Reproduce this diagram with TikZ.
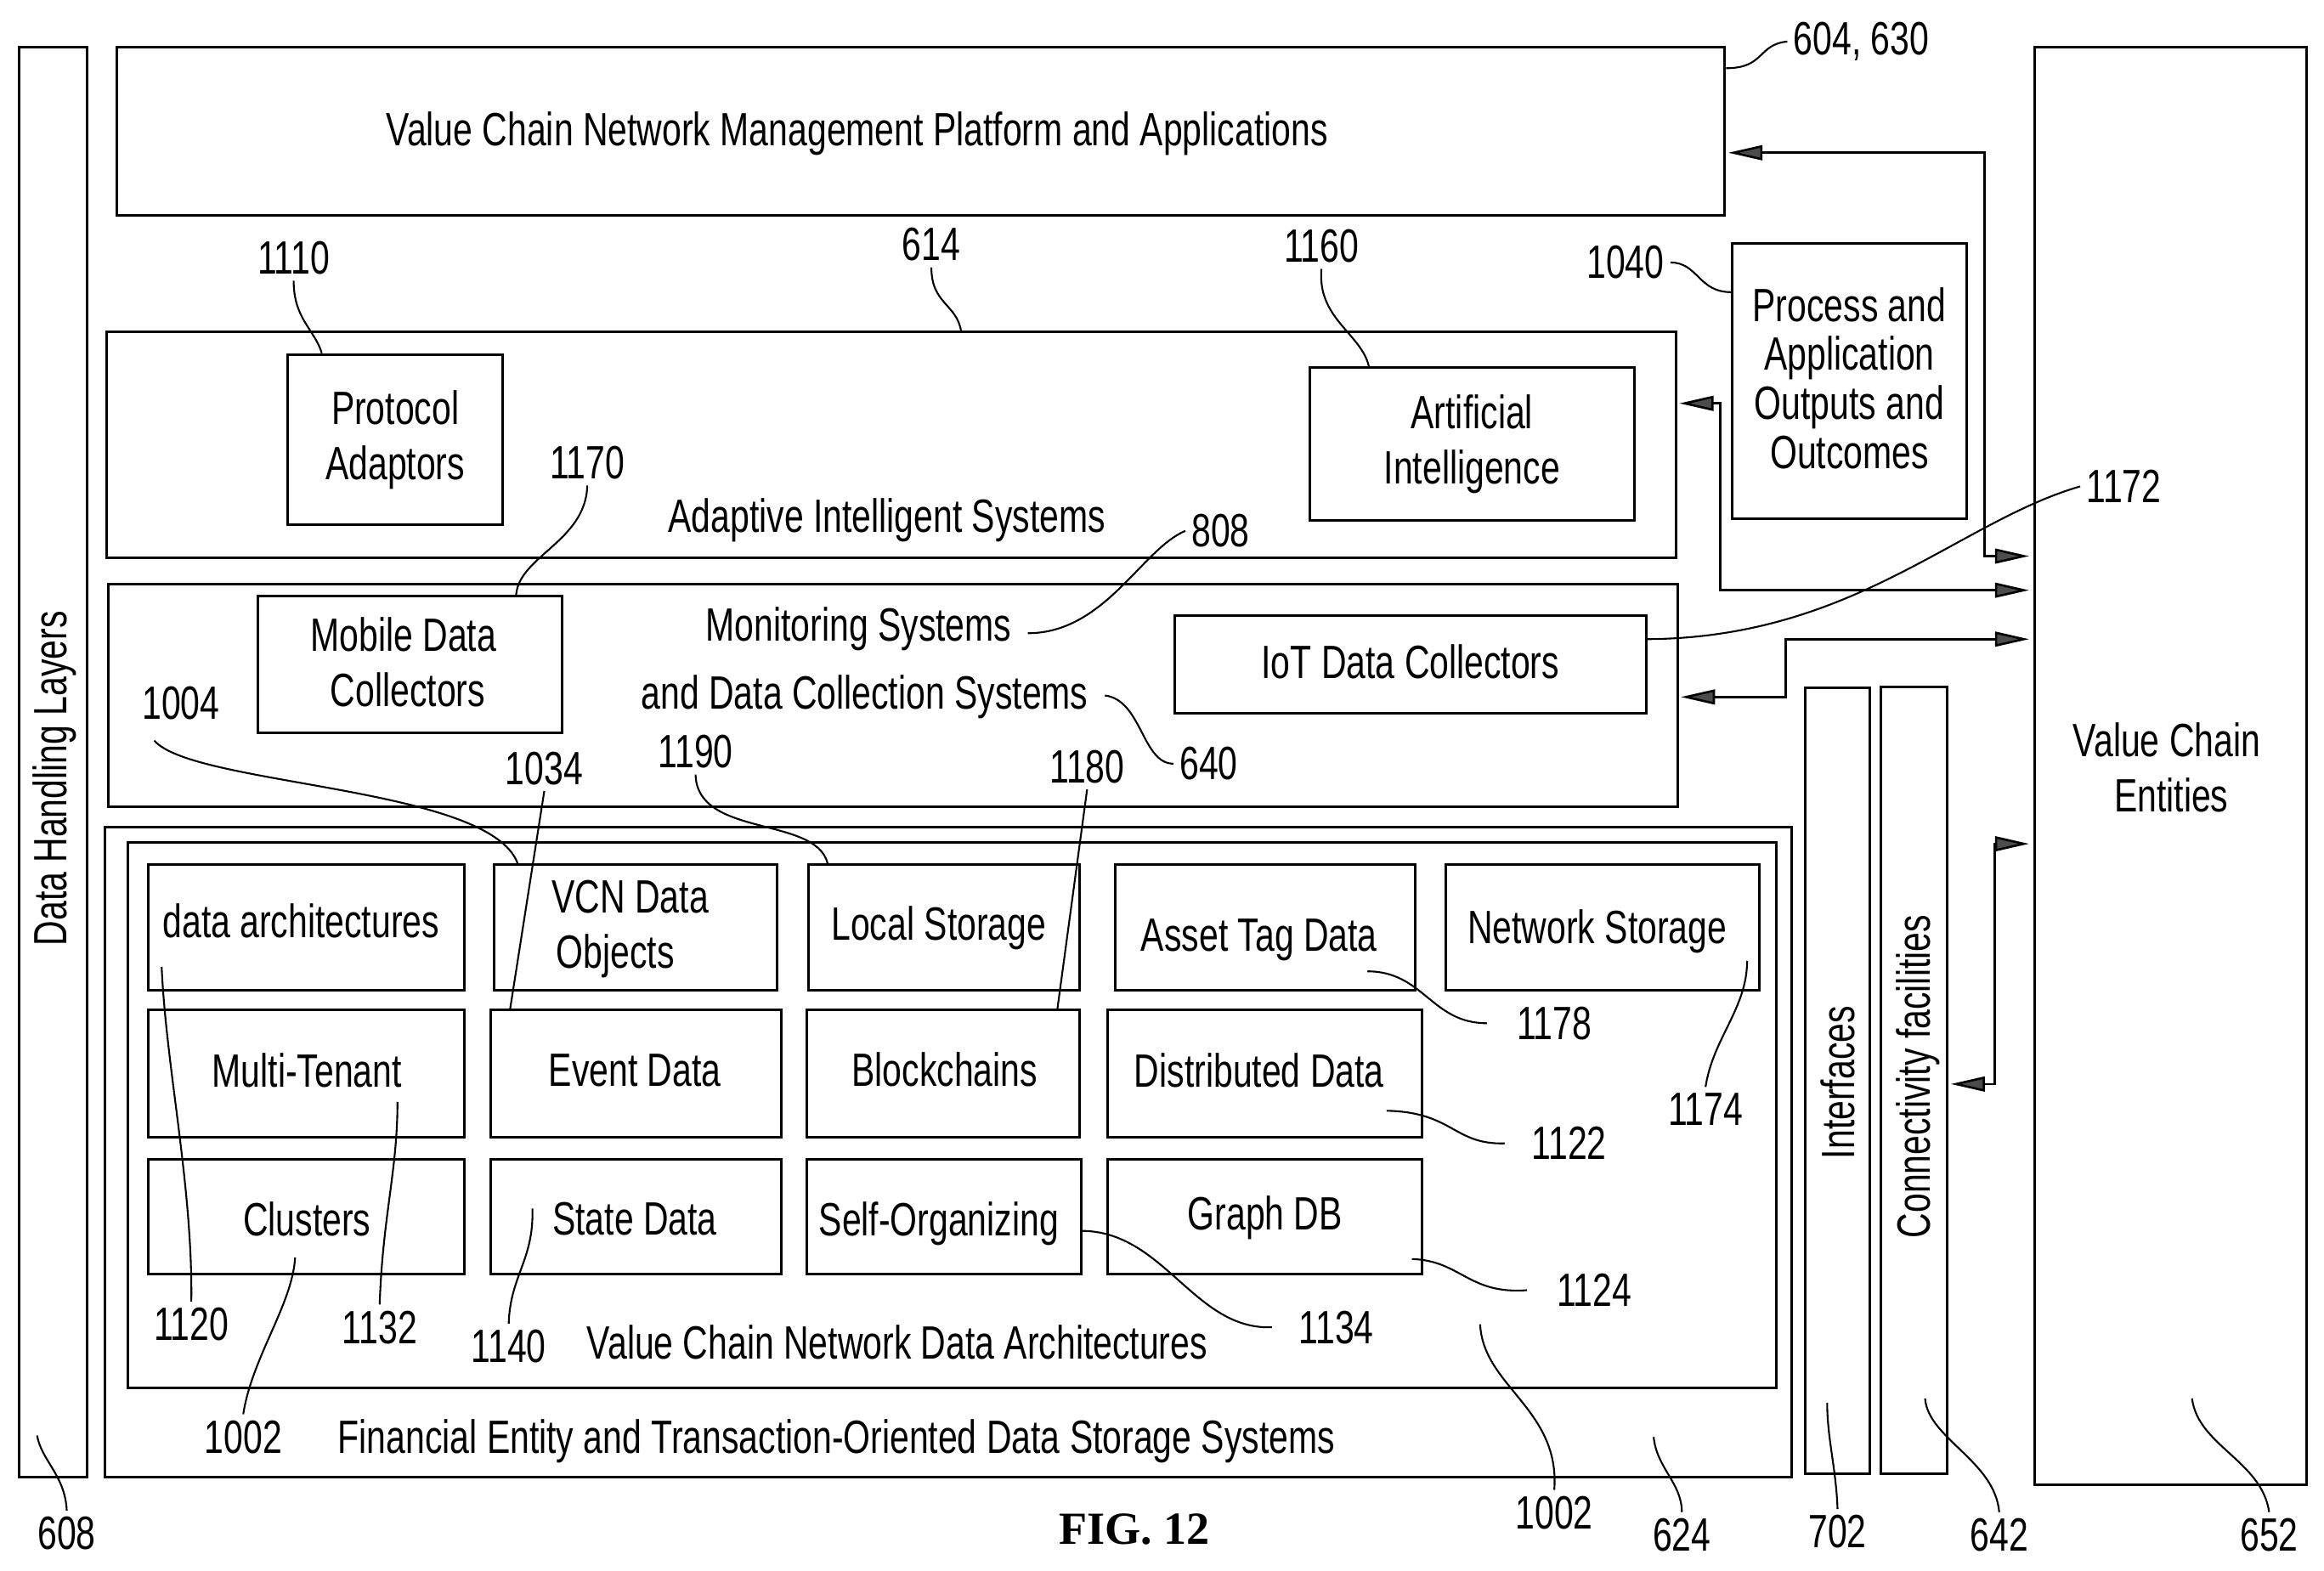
\documentclass[tikz,border=0pt]{standalone}
\usepackage{fontspec}
\setmainfont[FakeStretch=0.745]{Liberation Sans}
\newfontfamily\figfont{Liberation Serif}
\usetikzlibrary{arrows.meta}
\tikzstyle{box}=[rectangle,draw,line width=1.7pt,inner sep=0pt,align=center,font=\fontsize{31.5}{37}\selectfont]
\tikzstyle{txt}=[inner sep=0pt,align=center,font=\fontsize{31.5}{37}\selectfont]
\tikzstyle{num}=[inner sep=4pt,font=\fontsize{31.5}{37}\selectfont]
\tikzstyle{edge}=[draw,line width=1.5pt,shorten <=1.5pt,shorten >=3pt,>={Triangle[length=23pt,width=10pt,fill=black!70]}]
\tikzstyle{lead}=[draw,line width=1.2pt]

\begin{document}
\begin{tikzpicture}[x=1pt,y=-1pt]
        \useasboundingbox (0,0) rectangle (1567,1059);
        % outer columns and top bar
        \node[box,minimum width=46pt,minimum height=964pt] (handling) at (36,514) {};
        \node[box,minimum width=1084pt,minimum height=113pt] (platform) at (621,88.5) {};
        \node[box,minimum width=183pt,minimum height=969pt] (entities) at (1463.5,516.5) {};
        \node[box,minimum width=44pt,minimum height=530pt] (interfaces) at (1239,729) {};
        \node[box,minimum width=45pt,minimum height=531pt] (connectivity) at (1290.5,728.5) {};
        \node[txt,rotate=90] (handlingtxt) at (37,525) {Data Handling Layers};
        \node[txt,rotate=90] (interfacestxt) at (1239,730) {Interfaces};
        \node[txt,rotate=90] (connectivitytxt) at (1293,726) {Connectivity facilities};
        \node[txt] (platformtxt) at (578,90) {Value Chain Network Management Platform and Applications};
        \node[txt] (entitiestxt1) at (1461,499) {Value Chain};
        \node[txt] (entitiestxt2) at (1464,536) {Entities};
        % adaptive systems
        \node[box,minimum width=1058pt,minimum height=152pt] (adaptive) at (601,300) {};
        \node[box,minimum width=145pt,minimum height=115pt] (protocol) at (266.5,296.5) {Protocol\\Adaptors};
        \node[box,minimum width=219pt,minimum height=103pt] (ai) at (992.5,299.5) {Artificial\\Intelligence};
        \node[box,minimum width=158pt,minimum height=186pt] (process) at (1247,257) {};
        \node[txt,font=\fontsize{31.5}{33}\selectfont] (processtxt) at (1247,255) {Process and\\Application\\Outputs and\\Outcomes};
        \node[txt] (adaptivetxt) at (598,351) {Adaptive Intelligent Systems};
        % monitoring systems
        \node[box,minimum width=1058pt,minimum height=150pt] (monitoring) at (602,469) {};
        \node[box,minimum width=205pt,minimum height=92pt] (mobile) at (276.5,448) {};
        \node[txt] (mobiletxt1) at (272,428) {Mobile Data};
        \node[txt] (mobiletxt2) at (275,465) {Collectors};
        \node[box,minimum width=318pt,minimum height=66pt] (iot) at (951,448) {};
        \node[txt] (iottxt) at (951,446) {IoT Data Collectors};
        \node[txt] (monitoringtxt) at (579,424) {Monitoring Systems};
        \node[txt] (collectiontxt) at (583,470) {and Data Collection Systems};
        % storage systems
        \node[box,minimum width=1137pt,minimum height=438pt] (financial) at (639.5,777) {};
        \node[box,minimum width=1112pt,minimum height=368pt] (architectures) at (642,752) {};
        \node[txt] (architecturestxt) at (605,905) {Value Chain Network Data Architectures};
        \node[txt] (financialtxt) at (564,972) {Financial Entity and Transaction-Oriented Data Storage Systems};
        \node[box,minimum width=213pt,minimum height=85pt] (dataarch) at (206.5,625.5) {};
        \node[txt] (dataarchtxt) at (203,621) {data architectures};
        \node[box,minimum width=191pt,minimum height=85pt] (objects) at (428.5,625.5) {};
        \node[txt] (objectstxt1) at (425,605) {VCN Data};
        \node[txt] (objectstxt2) at (415,645) {Objects};
        \node[box,minimum width=183pt,minimum height=85pt] (local) at (636.5,625.5) {};
        \node[txt] (localtxt) at (633,626) {Local Storage};
        \node[box,minimum width=202pt,minimum height=85pt] (asset) at (853,625.5) {};
        \node[txt] (assettxt) at (849,634) {Asset Tag Data};
        \node[box,minimum width=211pt,minimum height=85pt] (network) at (1080.5,625.5) {};
        \node[txt] (networktxt) at (1077,628) {Network Storage};
        \node[box,minimum width=213pt,minimum height=86pt] (multi) at (206.5,724) {};
        \node[txt] (multitxt) at (207,722) {Multi-Tenant};
        \node[box,minimum width=196pt,minimum height=86pt] (event) at (429,724) {};
        \node[txt] (eventtxt) at (428,722) {Event Data};
        \node[box,minimum width=184pt,minimum height=86pt] (blockchains) at (636,724) {};
        \node[txt] (blockchainstxt) at (637,721) {Blockchains};
        \node[box,minimum width=212pt,minimum height=86pt] (distributed) at (853,724) {};
        \node[txt] (distributedtxt) at (849,722) {Distributed Data};
        \node[box,minimum width=213pt,minimum height=77pt] (clusters) at (206.5,820.5) {};
        \node[txt] (clusterstxt) at (207,822) {Clusters};
        \node[box,minimum width=196pt,minimum height=77pt] (state) at (429,820.5) {};
        \node[txt] (statetxt) at (428,822) {State Data};
        \node[box,minimum width=185pt,minimum height=77pt] (selforg) at (636.5,820.5) {};
        \node[txt] (selforgtxt) at (633,825) {Self-Organizing};
        \node[box,minimum width=212pt,minimum height=77pt] (graph) at (853,820.5) {};
        \node[txt] (graphtxt) at (853,821) {Graph DB};
        % reference numbers
        \node[num] (n604) at (1255,28) {604, 630};
        \node[num] (n1110) at (198,174) {1110};
        \node[num] (n614) at (628,165) {614};
        \node[num] (n1160) at (891,166) {1160};
        \node[num] (n1040) at (1096,177) {1040};
        \node[num] (n1170) at (396,312) {1170};
        \node[num] (n808) at (823,358) {808};
        \node[num] (n1172) at (1432,328) {1172};
        \node[num] (n640) at (815,515) {640};
        \node[num] (n1004) at (122,474) {1004};
        \node[num] (n1034) at (367,518) {1034};
        \node[num] (n1190) at (469,507) {1190};
        \node[num] (n1180) at (733,517) {1180};
        \node[num] (n1178) at (1048,690) {1178};
        \node[num] (n1174) at (1150,748) {1174};
        \node[num] (n1122) at (1058,771) {1122};
        \node[num] (n1124) at (1075,870) {1124};
        \node[num] (n1134) at (901,895) {1134};
        \node[num] (n1120) at (129,893) {1120};
        \node[num] (n1132) at (256,895) {1132};
        \node[num] (n1140) at (343,908) {1140};
        \node[num] (n1002a) at (164,969) {1002};
        \node[num] (n1002b) at (1048,1020) {1002};
        \node[num] (n624) at (1134,1035) {624};
        \node[num] (n702) at (1239,1033) {702};
        \node[num] (n642) at (1348,1035) {642};
        \node[num] (n652) at (1530,1035) {652};
        \node[num] (n608) at (45,1034) {608};
        \node[inner sep=0pt,font=\figfont\bfseries\fontsize{31}{34}\selectfont] (fig) at (765,1031) {FIG. 12};
        % bends of the arrows
        \coordinate (b1) at (1338,103);
        \coordinate (b2) at (1338,375);
        \coordinate (b3) at (1160,272);
        \coordinate (b4) at (1160,398);
        \coordinate (b5) at (1204,470);
        \coordinate (b6) at (1204,431);
        \coordinate (b7) at (1345,731);
        \coordinate (b8) at (1345,569);
        \path[edge,<->] (platform.east |- b1) -- (b1) -- (b2) -- (entities.west |- b2);
        \path[edge,<->] (adaptive.east |- b3) -- (b3) -- (b4) -- (entities.west |- b4);
        \path[edge,<->] (monitoring.east |- b5) -- (b5) -- (b6) -- (entities.west |- b6);
        \path[edge,<->] (connectivity.east |- b7) -- (b7) -- (b8) -- (entities.west |- b8);
        % free ends of the lead lines
        \coordinate (e1178) at (922,655);
        \coordinate (e1174) at (1178,648);
        \coordinate (e1122) at (935,749);
        \coordinate (e1124) at (952,849);
        \coordinate (e1134) at (729,830);
        \coordinate (e1120) at (109,652);
        \coordinate (e1132) at (268,743);
        \coordinate (e1140) at (359,815);
        \coordinate (e1002a) at (199,848);
        \coordinate (e1002b) at (998,893);
        \coordinate (e624) at (1115,969);
        \coordinate (e702) at (1232,946);
        \coordinate (e642) at (1298,943);
        \coordinate (e652) at (1478,943);
        \coordinate (e608) at (25,968);
        \path[lead] (n604.west) .. controls (1185,30) and (1190,46) .. ([yshift=42.5pt]platform.east);
        \path[lead] (n1110.south) .. controls (198,215) and (212,222) .. ([xshift=-49.5pt]protocol.north);
        \path[lead] (n614.south) .. controls (628,205) and (645,205) .. ([xshift=47pt]adaptive.north);
        \path[lead] (n1160.south) .. controls (888,215) and (918,225) .. ([xshift=-69.5pt]ai.north);
        \path[lead] (n1040.east) .. controls (1145,177) and (1145,197) .. ([yshift=60pt]process.west);
        \path[lead] (n1170.south) .. controls (395,365) and (350,375) .. ([xshift=71.5pt]mobile.north);
        \path[lead] (n808.west) .. controls (770,370) and (745,427) .. (693,427);
        \path[lead] ([yshift=17pt]iot.east) .. controls (1250,430) and (1320,352) .. (n1172.west);
        \path[lead] (n640.west) .. controls (770,515) and (770,472) .. (745,469);
        \path[lead] ([xshift=-18pt,yshift=-10pt]n1004.south) .. controls (130,530) and (330,530) .. ([xshift=-79.5pt]objects.north);
        \path[lead] (n1034.south) -- ([xshift=-85pt]event.north);
        \path[lead] (n1190.south) .. controls (470,565) and (550,550) .. ([xshift=-78.5pt]local.north);
        \path[lead] (n1180.south) -- ([xshift=77pt]blockchains.north);
        \path[lead] ([xshift=-16pt]n1178.west) .. controls (965,690) and (960,655) .. (e1178);
        \path[lead] (n1174.north) .. controls (1155,700) and (1178,680) .. (e1174);
        \path[lead] ([xshift=-14pt]n1122.west) .. controls (980,772) and (980,750) .. (e1122);
        \path[lead] ([xshift=-16pt]n1124.west) .. controls (990,873) and (985,850) .. (e1124);
        \path[lead] ([xshift=-14pt]n1134.west) .. controls (805,897) and (785,830) .. (e1134);
        \path[lead] (n1120.north) .. controls (130,800) and (112,720) .. (e1120);
        \path[lead] (n1132.north) .. controls (258,820) and (268,790) .. (e1132);
        \path[lead] (n1140.north) .. controls (344,860) and (360,850) .. (e1140);
        \path[lead] (n1002a.north) .. controls (170,915) and (197,880) .. (e1002a);
        \path[lead] (n1002b.north) .. controls (1052,950) and (1000,935) .. (e1002b);
        \path[lead] (n624.north) .. controls (1134,1000) and (1117,990) .. (e624);
        \path[lead] (n702.north) .. controls (1238,990) and (1232,970) .. (e702);
        \path[lead] (n642.north) .. controls (1345,985) and (1300,970) .. (e642);
        \path[lead] (n652.north) .. controls (1525,985) and (1482,975) .. (e652);
        \path[lead] (n608.north) .. controls (44,995) and (28,985) .. (e608);
    \end{tikzpicture}
\end{document}
